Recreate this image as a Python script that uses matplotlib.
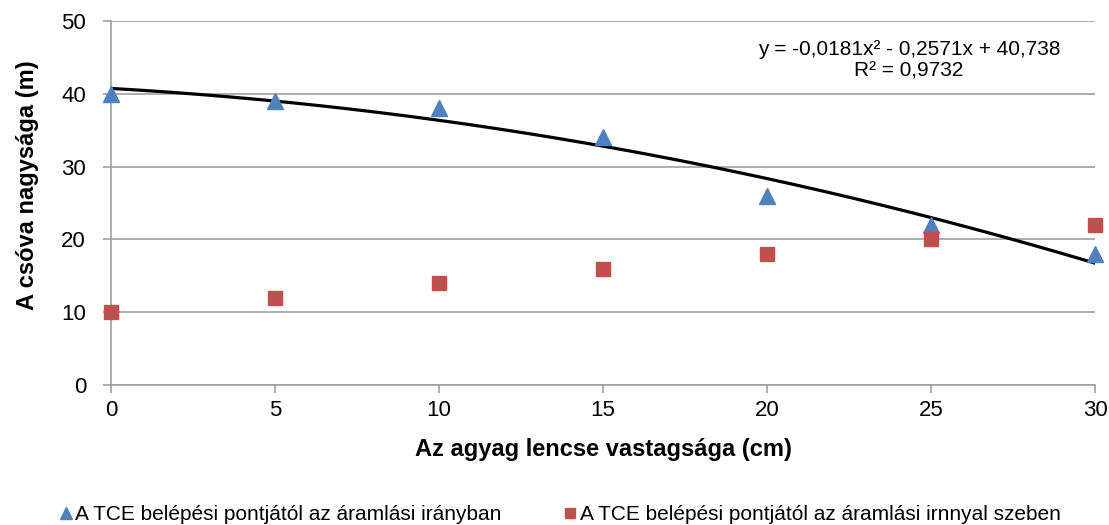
import numpy as np
import matplotlib as mpl
import matplotlib.pyplot as plt

mpl.rcParams["font.family"] = ["Liberation Sans", "DejaVu Sans"]

BLUE = "#4F81BD"
RED = "#C0504D"
GRID = "#A0A0A0"

thickness = [0, 5, 10, 15, 20, 25, 30]
downstream = [40, 39, 38, 34, 26, 22, 18]
upstream = [10, 12, 14, 16, 18, 20, 22]
trend_coef = [-0.0181, -0.2571, 40.738]

fig = plt.figure(figsize=(11.09, 5.25), dpi=100)
ax = fig.add_axes([0.1001, 0.2667, 0.8873, 0.6933])

ax.set_xlim(0, 30)
ax.set_ylim(0, 50)
ax.set_xticks(range(0, 31, 5))
ax.set_yticks(range(0, 51, 10))
ax.yaxis.grid(True, color=GRID, lw=1.2)
ax.set_axisbelow(True)
for s in ["top", "right"]:
    ax.spines[s].set_visible(False)
for s in ["left", "bottom"]:
    ax.spines[s].set_color(GRID)
    ax.spines[s].set_linewidth(1.2)
ax.tick_params(colors=GRID, labelcolor="black", labelsize=16, length=6,
               width=1.2)
ax.tick_params(axis="y", pad=12)
ax.tick_params(axis="x", pad=5)

xs = np.linspace(0, 30, 200)
ax.plot(xs, np.polyval(trend_coef, xs), color="black", lw=2.3, zorder=2)

ax.plot(thickness, downstream, ls="none", marker="^", ms=11, color=BLUE,
        clip_on=False, zorder=3,
        label="A TCE belépési pontjától az áramlási irányban")
ax.plot(thickness, upstream, ls="none", marker="s", ms=10, color=RED,
        clip_on=False, zorder=3,
        label="A TCE belépési pontjától az áramlási irnnyal szeben")

ax.text(0.811, 0.893, "y = -0,0181x² - 0,2571x + 40,738\nR² = 0,9732",
        transform=ax.transAxes, ha="center", va="center", fontsize=15,
        linespacing=1.15)

ax.set_xlabel("Az agyag lencse vastagsága (cm)", fontsize=17,
              fontweight="bold", labelpad=12)
ax.set_ylabel("A csóva nagysága (m)", fontsize=17, fontweight="bold")
ax.yaxis.set_label_coords(-0.073, 0.55)

fig.legend(loc="center", bbox_to_anchor=(0.505, 0.02), ncol=2, frameon=False,
           fontsize=15, handlelength=0.6, handletextpad=0.15,
           columnspacing=3.0, markerscale=0.75)

fig.savefig("out.png", dpi=100)
